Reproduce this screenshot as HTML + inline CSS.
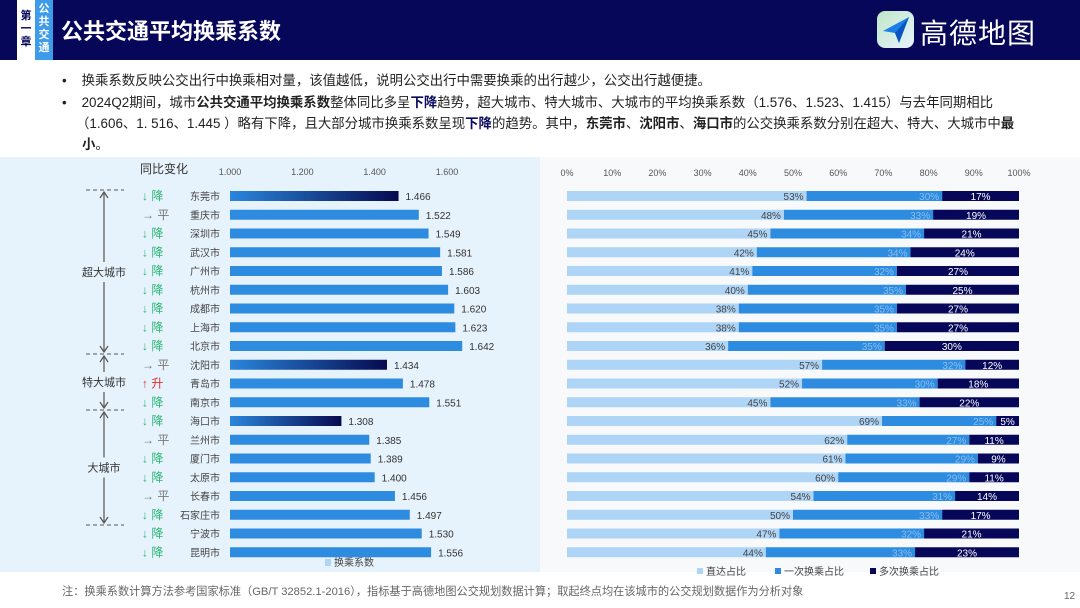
<!DOCTYPE html>
<html><head><meta charset="utf-8">
<style>
body{margin:0;width:1080px;height:608px;overflow:hidden;background:#fff;font-family:"Liberation Sans","Noto Sans CJK SC",sans-serif;position:relative}
.abs{position:absolute}
.bul{position:absolute;left:62px;font-size:13.4px;color:#222;white-space:nowrap}
b.k{color:#0a0a5e}
</style></head><body>
<div class="abs" style="left:0;top:0;width:1080px;height:60px;background:#07075a"></div>
<div class="abs" style="left:17px;top:0;width:18px;height:60px;background:#fff;color:#07075a;font-size:11px;font-weight:bold;line-height:13px;text-align:center;padding-top:10px;box-sizing:border-box">第<br>一<br>章</div>
<div class="abs" style="left:35px;top:0;width:18px;height:60px;background:#3d9be9;color:#fff;font-size:11px;font-weight:bold;line-height:13px;text-align:center;padding-top:3px;box-sizing:border-box">公<br>共<br>交<br>通</div>
<div class="abs" style="left:61px;top:14px;color:#fff;font-size:22px;font-weight:bold">公共交通平均换乘系数</div>
<div class="abs" style="left:877px;top:11px;width:37px;height:37px;border-radius:8px;background:linear-gradient(135deg,#bfe6c6,#e8f4ff)">
<svg width="37" height="37"><polygon points="6,20 32,6 22,32 18,22" fill="#1e7ee8"/><polygon points="18,22 32,6 22,32" fill="#0a55c0"/></svg></div>
<div class="abs" style="left:920px;top:12px;color:#fff;font-size:28px;letter-spacing:1px">高德地图</div>

<div class="bul" style="top:69px">•&nbsp;&nbsp;&nbsp;&nbsp;换乘系数反映公交出行中换乘相对量，该值越低，说明公交出行中需要换乘的出行越少，公交出行越便捷。</div>
<div class="bul" style="top:91px">•&nbsp;&nbsp;&nbsp;&nbsp;2024Q2期间，城市<b>公共交通平均换乘系数</b>整体同比多呈<b class="k">下降</b>趋势，超大城市、特大城市、大城市的平均换乘系数（1.576、1.523、1.415）与去年同期相比</div>
<div class="bul" style="top:112px;left:76px">（1.606、1. 516、1.445 ）略有下降，且大部分城市换乘系数呈现<b class="k">下降</b>的趋势。其中，<b>东莞市</b>、<b>沈阳市</b>、<b>海口市</b>的公交换乘系数分别在超大、特大、大城市中<b>最</b></div>
<div class="bul" style="top:133px;left:82px"><b>小</b>。</div>

<div class="abs" style="left:0;top:157px;width:540px;height:415px;background:#e6f2fc"></div>
<div class="abs" style="left:540px;top:157px;width:540px;height:415px;background:#f7f9fb"></div>

<svg class="abs" style="left:0;top:0" width="1080" height="608" id="chart">
<defs><linearGradient id="g" x1="0" x2="1"><stop offset="0" stop-color="#2a86dc"/><stop offset="1" stop-color="#060a50"/></linearGradient></defs>
</svg>

<div class="abs" style="left:62px;top:583px;font-size:11.2px;color:#666">注：换乘系数计算方法参考国家标准（GB/T 32852.1-2016），指标基于高德地图公交规划数据计算；取起终点均在该城市的公交规划数据作为分析对象</div>
<div class="abs" style="left:1064px;top:591px;font-size:10px;color:#666">12</div>

<script>
const cities=["东莞市","重庆市","深圳市","武汉市","广州市","杭州市","成都市","上海市","北京市","沈阳市","青岛市","南京市","海口市","兰州市","厦门市","太原市","长春市","石家庄市","宁波市","昆明市"];
const coef=[1.466,1.522,1.549,1.581,1.586,1.603,1.620,1.623,1.642,1.434,1.478,1.551,1.308,1.385,1.389,1.400,1.456,1.497,1.530,1.556];
const change=["降","平","降","降","降","降","降","降","降","平","升","降","降","平","降","降","平","降","降","降"];
const direct=[53,48,45,42,41,40,38,38,36,57,52,45,69,62,61,60,54,50,47,44];
const once=[30,33,34,34,32,35,35,35,35,32,30,33,25,27,29,29,31,33,32,33];
const multi=[17,19,21,24,27,25,27,27,30,12,18,22,5,11,9,11,14,17,21,23];
const coefTicks=[1.0,1.2,1.4,1.6];
const pctTicks=[0,10,20,30,40,50,60,70,80,90,100];
const highlight=["东莞市","沈阳市","海口市"];

const svg=document.getElementById('chart');const NS='http://www.w3.org/2000/svg';
function mk(t,a,txt){const e=document.createElementNS(NS,t);for(const k in a)e.setAttribute(k,a[k]);if(txt!==undefined)e.textContent=txt;svg.appendChild(e);return e;}
const rowY=i=>196+i*18.75;
const xL=v=>230+(v-1)*361.7;
const xR=p=>567+p*4.52;
const F='"Liberation Sans","Noto Sans CJK SC",sans-serif';
coefTicks.forEach(t=>{const e=mk('text',{x:xL(t),y:175,'font-size':9,fill:'#555','text-anchor':'middle','font-family':F},t.toFixed(3));

});
let h=mk('text',{x:140,y:173,'font-size':12,fill:'#333','font-family':F},'同比变化');


pctTicks.forEach(t=>{const e=mk('text',{x:xR(t),y:176,'font-size':9,fill:'#555','text-anchor':'middle','font-family':F},t+'%');

});
cities.forEach((c,i)=>{
 const y=rowY(i);
 const col=change[i]=='降'?'#2bb673':change[i]=='升'?'#e03030':'#777';
 const ar=change[i]=='降'?'↓':change[i]=='升'?'↑':'→';
 let e=mk('text',{x:142,y:y+4,'font-size':12,fill:col,'font-family':F},ar+' '+change[i]);
 
 
 e=mk('text',{x:220,y:y+4,'font-size':10,fill:'#444','text-anchor':'end','font-family':F},c);
 
 
 e=mk('rect',{x:xL(1),y:y-5,width:xL(coef[i])-xL(1),height:10,fill:highlight.includes(c)?'url(#g)':'#2e8ce0'});
 
 
 e=mk('text',{x:xL(coef[i])+7,y:y+4,'font-size':10,fill:'#333','font-family':F},coef[i].toFixed(3));
 
 
 const tot=direct[i]+once[i]+multi[i];
 const s=[direct[i],once[i],multi[i]],cols=['#aed4f6','#2e8ce0','#07075a'],tc=['#444','#88bdf0','#fff'];
 let acc=0;
 s.forEach((v,k)=>{
  const x0=xR(acc/tot*100),x1=xR((acc+v)/tot*100);acc+=v;
  e=mk('rect',{x:x0,y:y-5,width:x1-x0,height:10,fill:cols[k]});
  
  
  e=mk('text',{x:k==2?(x0+x1)/2:x1-3,y:y+4,'font-size':10,fill:tc[k],'text-anchor':k==2?'middle':'end','font-family':F},v+'%');
  
  
 });
});
const groups=[["超大城市",0,8],["特大城市",9,11],["大城市",12,19]];
[190,354,410,525].forEach(y=>{const e=mk('line',{x1:86,x2:124,y1:y,y2:y,stroke:'#555','stroke-dasharray':'4,3'});

});
const bounds=[[190,354],[354,410],[410,525]];
groups.forEach((g,k)=>{const [a,b]=bounds[k];const m=(a+b)/2;
 let e=mk('text',{x:104,y:m+4,'font-size':11,fill:'#333','text-anchor':'middle','font-family':F},g[0]);
 
 
 e=mk('path',{d:`M104 ${a+2}V${m-10}M104 ${m+10}V${b-2}M100 ${a+8}L104 ${a+2}L108 ${a+8}M100 ${b-8}L104 ${b-2}L108 ${b-8}`,stroke:'#555','stroke-width':1.2,fill:'none'});
 
 });
let e=mk('rect',{x:325,y:559,width:6,height:7,fill:'#aed4f6'});


e=mk('text',{x:334,y:566,'font-size':10,fill:'#444','font-family':F},'换乘系数');


[['直达占比','#aed4f6',697],['一次换乘占比','#2e8ce0',775],['多次换乘占比','#07075a',870]].forEach(l=>{
 let e=mk('rect',{x:l[2],y:568,width:6,height:6,fill:l[1]});
 
 
 e=mk('text',{x:l[2]+9,y:575,'font-size':10,fill:'#444','font-family':F},l[0]);
 
 
});
</script>
</body></html>
